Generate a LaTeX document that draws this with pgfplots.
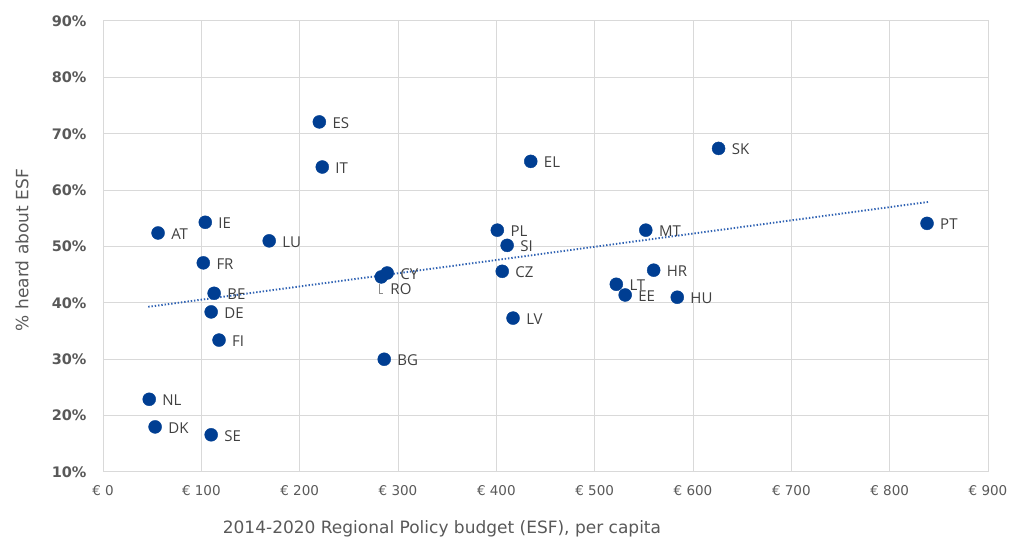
\documentclass[border=0pt]{standalone}
\usepackage{pgfplots}
\pgfplotsset{compat=1.18}
\usepackage{pgfplotstable}
\usepackage{fontspec}
\setmainfont{DejaVu Sans}
\newfontfamily\lblfont{Open Sans}
\definecolor{ptblue}{HTML}{003E92}
\definecolor{trendblue}{HTML}{2F62B3}
\definecolor{gridgray}{HTML}{D9D9D9}
\definecolor{ticktext}{HTML}{595959}
\definecolor{lbltext}{HTML}{404040}

% ESF budget per capita (EUR) vs share who heard about ESF (%)
\pgfplotstableread{
x   y    label
47  22.9 NL
53  18.0 DK
110 16.6 SE
56  52.4 AT
104 54.3 IE
102 47.1 FR
113 41.7 BE
110 38.4 DE
118 33.4 FI
169 51.0 LU
220 72.1 ES
223 64.1 IT
289 45.3 CY
286 30.0 BG
401 52.9 PL
411 50.2 SI
406 45.6 CZ
417 37.3 LV
435 65.1 EL
522 43.3 LT
531 41.4 EE
552 52.9 MT
560 45.8 HR
584 41.0 HU
626 67.4 SK
838 54.1 PT
}\esfdata

\pgfplotstableread{
x   y    label
283 44.6 RO
}\rodata

\begin{document}
\begin{tikzpicture}
\begin{axis}[
  scale only axis,
  width=885bp, height=451bp,
  xmin=0, xmax=900, ymin=10, ymax=90,
  xtick distance=100, ytick distance=10,
  grid=major,
  major grid style={draw=gridgray, line width=1bp},
  axis line style={draw=gridgray, line width=1bp},
  major tick length=0,
  clip=false,
  /pgf/number format/assume math mode=true,
  xticklabel={€ \pgfmathprintnumber{\tick}},
  yticklabel={\pgfmathprintnumber{\tick}\%},
  x tick label style={font=\fontsize{13.5bp}{16bp}\selectfont, text=ticktext, yshift=-10bp},
  y tick label style={font=\bfseries\fontsize{14.5bp}{16bp}\selectfont, text=ticktext, xshift=-13bp},
  xlabel={2014-2020 Regional Policy budget (ESF), per capita},
  xlabel style={at={(axis description cs:0.383,0)}, anchor=base, yshift=-61bp,
    font=\fontsize{17bp}{20bp}\selectfont, text=ticktext},
  ylabel={\% heard about ESF},
  ylabel style={at={(axis description cs:-0.0915,0.492)}, anchor=center,
    font=\fontsize{17bp}{20bp}\selectfont, text=ticktext},
]
\addplot[trendblue, line width=1.9bp, dash pattern=on 1.4bp off 1.9bp]
  coordinates {(46,39.3) (839,57.9)};

\addplot[only marks, mark=*, mark size=6.5bp, ptblue,
  nodes near coords, point meta=explicit symbolic,
  every node near coord/.append style={anchor=west, xshift=13bp, yshift=-1bp, inner sep=0pt,
    font=\lblfont\fontsize{15bp}{18bp}\selectfont, text=lbltext}]
  table[x=x, y=y, meta=label] {\esfdata};

\draw[ticktext!70, line width=0.8bp] (axis cs:281,43.4) -- (axis cs:281,41.6) -- (axis cs:285,41.6);
\addplot[only marks, mark=*, mark size=6.5bp, ptblue,
  nodes near coords, point meta=explicit symbolic,
  every node near coord/.append style={anchor=north west, xshift=9bp, yshift=-6bp, inner sep=0pt,
    font=\lblfont\fontsize{15bp}{18bp}\selectfont, text=lbltext}]
  table[x=x, y=y, meta=label] {\rodata};

\coordinate (bl) at (rel axis cs:0,0);
\coordinate (tr) at (rel axis cs:1,1);
\end{axis}
\path ([xshift=-103bp,yshift=-67bp]bl) rectangle ([xshift=24bp,yshift=21bp]tr);
\end{tikzpicture}
\end{document}
